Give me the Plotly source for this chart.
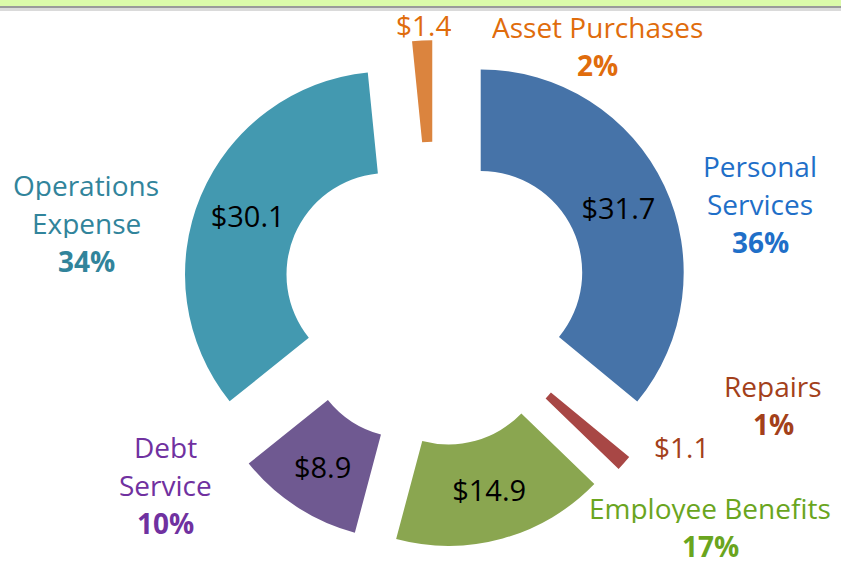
import plotly.graph_objects as go

# Données du graphique (millions $)
categories = ["Personal Services", "Repairs", "Employee Benefits",
              "Debt Service", "Operations Expense", "Asset Purchases"]
montants = [31.7, 1.1, 14.9, 8.9, 30.1, 1.4]
etiquettes = [["Personal", "Services"], ["Repairs"], ["Employee Benefits"],
              ["Debt", "Service"], ["Operations", "Expense"], ["Asset Purchases"]]

couleurs_parts = ["#4673A8", "#A84745", "#8AA650", "#6F5991", "#4399B0", "#DB843E"]
couleurs_texte = ["#1F6FC8", "#A3401A", "#6AA51E", "#7031A0", "#31849B", "#E06C0C"]
FONT = "Open Sans"

total = sum(montants)
pourcents = [round(v / total * 100) for v in montants]
# valeur dans la part seulement pour les grosses parts
textes = [f"${v:.1f}" if v / total > 0.05 else "" for v in montants]

fig = go.Figure()
fig.add_trace(go.Pie(
    labels=categories, values=montants,
    hole=0.5, pull=[0.25] * len(montants),
    sort=False, direction="clockwise", rotation=0,
    marker=dict(colors=couleurs_parts, line=dict(width=0)),
    text=textes, textinfo="text", textposition="inside",
    insidetextorientation="horizontal",
    textfont=dict(family=FONT, size=29, color="black"),
    domain=dict(x=[0.167, 0.867], y=[0.0305, 0.9287]),
    showlegend=False, hoverinfo="label+value+percent",
))

# positions des étiquettes extérieures (pixels : x centre, y première ligne)
pos_etiq = [(760, 166), (773, 386), (710, 508), (165, 447), (86, 185), (597, 27)]
pos_valeur_ext = {1: (681, 447), 5: (423, 25)}
W, H = 841, 565
INTERLIGNE = 38

annotations = []
for i, (lignes, (px_, py_)) in enumerate(zip(etiquettes, pos_etiq)):
    for k, ligne in enumerate(lignes + [f"<b>{pourcents[i]}%</b>"]):
        annotations.append(dict(
            x=px_ / W, y=1 - (py_ + k * INTERLIGNE) / H,
            xref="paper", yref="paper", showarrow=False,
            text=ligne, xanchor="center", yanchor="middle", height=30,
            font=dict(family=FONT, size=28, color=couleurs_texte[i]),
        ))
for i, (px_, py_) in pos_valeur_ext.items():
    annotations.append(dict(
        x=px_ / W, y=1 - py_ / H, xref="paper", yref="paper", showarrow=False,
        text=f"${montants[i]:.1f}", xanchor="center", yanchor="middle", height=30,
        font=dict(family=FONT, size=28, color=couleurs_texte[i]),
    ))

fig.update_layout(
    width=W, height=H,
    margin=dict(l=0, r=0, t=0, b=0),
    paper_bgcolor="white", plot_bgcolor="white",
    annotations=annotations,
    shapes=[
        dict(type="rect", xref="paper", yref="paper", x0=0, x1=1,
             y0=1 - 6 / H, y1=1, fillcolor="#DBFAAA", line=dict(width=0), layer="below"),
        dict(type="rect", xref="paper", yref="paper", x0=0, x1=1,
             y0=1 - 8 / H, y1=1 - 6 / H, fillcolor="#9A9A9A", line=dict(width=0), layer="below"),
        dict(type="rect", xref="paper", yref="paper", x0=0, x1=1,
             y0=1 - 11 / H, y1=1 - 8 / H, fillcolor="#DADADA", line=dict(width=0), layer="below"),
    ],
)

# pas de marge de page ni de barre d'outils autour du graphique
fig.write_html("out.html", config={"displayModeBar": False},
               post_script="document.body.style.margin='0';")
